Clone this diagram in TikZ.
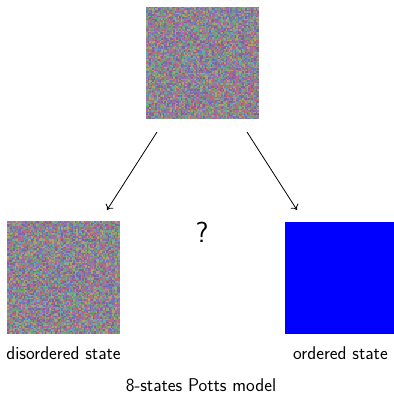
\documentclass[tikz,border=0pt]{standalone}
\usetikzlibrary{arrows.meta}
% spin colours of the 8-state lattice
\definecolor{nc0}{RGB}{188,104,120}
\definecolor{nc1}{RGB}{112,164,106}
\definecolor{nc2}{RGB}{108,118,188}
\definecolor{nc3}{RGB}{166,106,172}
\definecolor{nc4}{RGB}{106,168,166}
\definecolor{nc5}{RGB}{172,164,108}
\definecolor{nc6}{RGB}{138,136,142}
\definecolor{nc7}{RGB}{128,98,150}
\definecolor{orderblue}{RGB}{0,0,255}
% random lattice: #1,#2 lower-left corner (pt), #3 cells per side, #4 cell size (pt)
\newcommand{\spinlattice}[4]{%
  \foreach \i in {1,...,#3}{%
    \foreach \j in {1,...,#3}{%
      \pgfmathrandominteger{\k}{0}{7}%
      \pgfsetfillcolor{nc\k}%
      \pgfpathrectangle{\pgfpoint{#1pt+(\i-1)*#4pt}{#2pt+(\j-1)*#4pt}}{\pgfpoint{#4pt+0.05pt}{#4pt+0.05pt}}%
      \pgfusepath{fill}%
    }%
  }%
}
\tikzset{
  lbl/.style={font=\sffamily\fontsize{18.5}{22}\selectfont, inner sep=0pt},
  flow/.style={-{To[length=5pt,width=9pt]}, line width=0.8pt, black},
}
\begin{document}
\begin{tikzpicture}[x=1pt,y=1pt]
  \useasboundingbox (0,0) rectangle (394,394);
  \pgfmathsetseed{4242}
  % initial random configuration
  \spinlattice{146}{274.5}{75}{1.5}
  % disordered final state
  \spinlattice{7}{60}{75}{1.5}
  % ordered final state
  \fill[orderblue] (285,60) rectangle (394,172);

  \coordinate (start-l) at (157,262);
  \coordinate (start-r) at (247,262);
  \coordinate (end-l) at (107,184);
  \coordinate (end-r) at (297,184);
  \draw[flow] (start-l) -- (end-l);
  \draw[flow] (start-r) -- (end-r);

  \node[lbl, font=\sffamily\fontsize{29}{32}\selectfont] (q) at (202,162) {?};
  \node[lbl] (dis) at (63.5,41) {disordered state};
  \node[lbl] (ord) at (340.5,41) {ordered state};
  \node[lbl] (title) at (201,9) {8-states Potts model};
\end{tikzpicture}
\end{document}
